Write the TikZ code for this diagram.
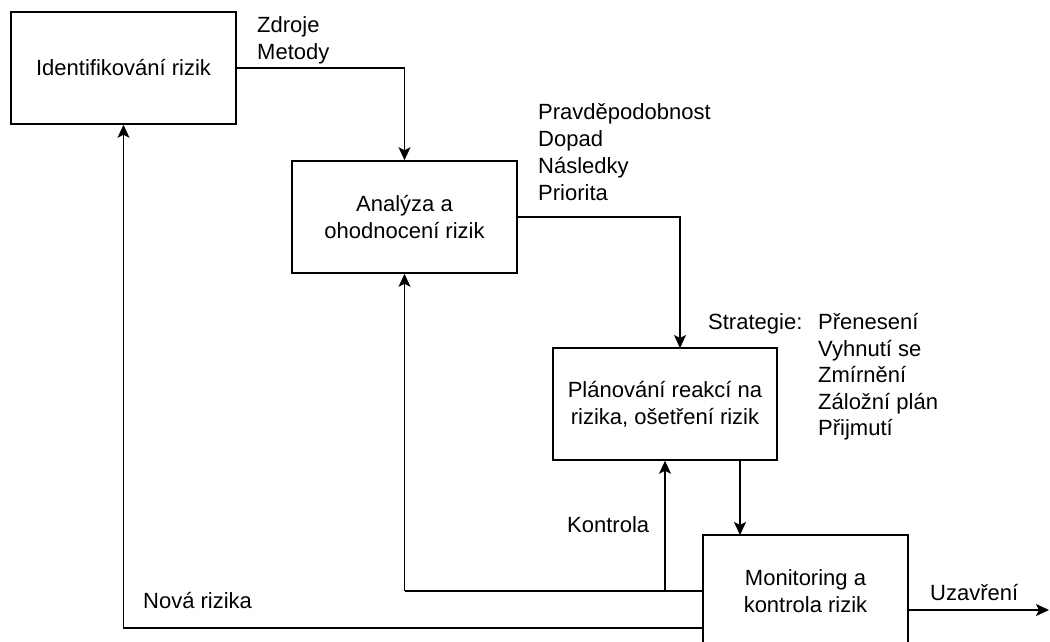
\documentclass[tikz,border=0pt]{standalone}
\usepackage{fontspec}
\setmainfont{Liberation Sans}
\usetikzlibrary{arrows.meta}
\begin{document}
\begin{tikzpicture}[x=1pt,y=-1pt,
  every node/.style={font=\fontsize{22}{27}\selectfont},
  procbox/.style={draw, line width=1.6pt, inner sep=0pt, align=center,
    minimum width=#1, minimum height=112pt},
  flow/.style={line width=1.6pt, -{Stealth[length=13pt,width=12pt,inset=3pt]}},
  plain/.style={line width=1.6pt},
  lbl/.style={anchor=west, inner sep=0pt, align=left}]
  \useasboundingbox (0,0) rectangle (1050,642);
  \clip (0,0) rectangle (1050,642);

  % process boxes
  \node[procbox=225pt] (ident) at (123.5,68) {Identifikování rizik};
  \node[procbox=225pt] (anal) at (404.5,217) {Analýza a\\ohodnocení rizik};
  \node[procbox=224pt] (plan) at (665,404) {Plánování reakcí na\\rizika, ošetření rizik};
  \node[procbox=205pt] (mon) at (805.5,591) {Monitoring a\\kontrola rizik};

  % attachment points on box edges
  \coordinate (planin) at (680,348);
  \coordinate (planout) at (740,460);
  \coordinate (monin) at (740,535);
  \coordinate (monnew) at (703,628);
  \coordinate (monend) at (908,610);
  \coordinate (anaback) at (404.5,591);
  \coordinate (close) at (1049,610);

  % forward flow
  \draw[flow] (ident.east) -| (anal.north);
  \draw[flow] (anal.east) -| (planin);
  \draw[flow] (planout) -- (monin);
  \draw[flow] (monend) -- (close);

  % feedback loops
  \draw[plain] (mon.west) -- (anaback);
  \draw[flow] (anaback) -- (anal.south);
  \draw[flow] (plan.south |- mon.west) -- (plan.south);
  \draw[flow] (monnew) -| (ident.south);

  % labels
  \node[lbl] (lsrc) at (257,40.5) {Zdroje\\Metody};
  \node[lbl] (lanal) at (538,152) {Pravděpodobnost\\Dopad\\Následky\\Priorita};
  \node[lbl] (lstrat) at (708,324) {Strategie:};
  \node[lbl, font=\fontsize{22}{26.5}\selectfont] (lopts) at (818,377) {Přenesení\\Vyhnutí se\\Zmírnění\\Záložní plán\\Přijmutí};
  \node[lbl] (lkon) at (567,525) {Kontrola};
  \node[lbl] (lnew) at (143,601) {Nová rizika};
  \node[lbl] (lclose) at (930,593) {Uzavření};
\end{tikzpicture}
\end{document}
